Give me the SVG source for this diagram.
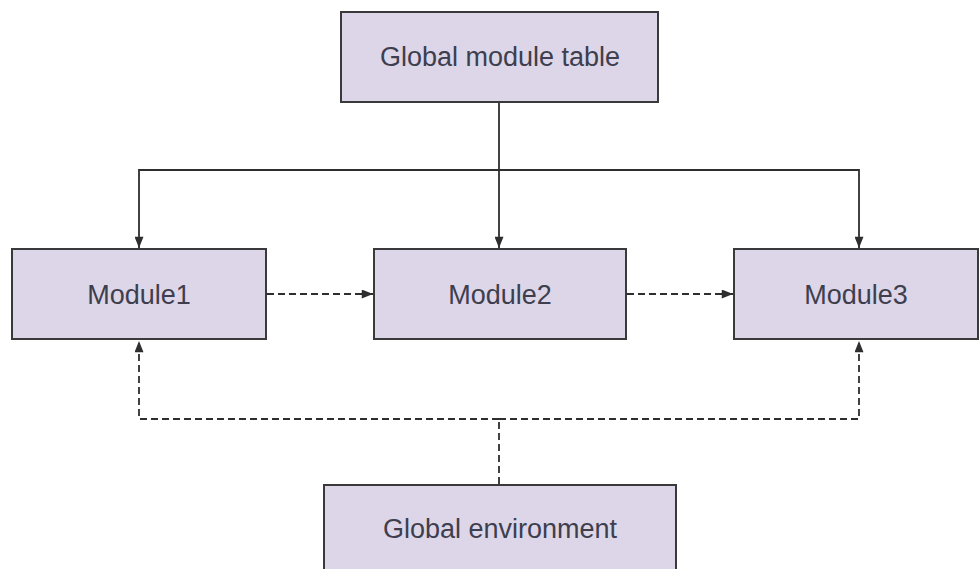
<svg xmlns="http://www.w3.org/2000/svg" width="979" height="569" viewBox="0 0 979 569">
<style>
.box{fill:#dcd6e8;stroke:#3a3a3a;stroke-width:2}
.lbl{font-family:"Liberation Sans",Arial,sans-serif;font-size:27px;fill:#3e3e4e;text-anchor:middle}
.ln{fill:none;stroke:#2e2e2e;stroke-width:1.8}
.dash{stroke-dasharray:7 4}
</style>
<defs>
<marker id="ah" viewBox="0 0 10 8" refX="10" refY="4" markerWidth="12" markerHeight="9" markerUnits="userSpaceOnUse" orient="auto">
<path d="M0,0 L10,4 L0,8 Z" fill="#2e2e2e"/>
</marker>
</defs>
<rect width="979" height="569" fill="#fff"/>
<g id="connectors">
<path class="ln" d="M499,102 V248" marker-end="url(#ah)"/>
<path class="ln" d="M499,170 H139 V248" marker-end="url(#ah)"/>
<path class="ln" d="M499,170 H859 V248" marker-end="url(#ah)"/>
<path class="ln dash" d="M267,294 H373" marker-end="url(#ah)"/>
<path class="ln dash" d="M627,294 H733" marker-end="url(#ah)"/>
<path class="ln dash" d="M499,484 V419"/>
<path class="ln dash" d="M499,419 H139 V341" marker-end="url(#ah)"/>
<path class="ln dash" d="M499,419 H859 V341" marker-end="url(#ah)"/>
</g>
<g id="global-module-table">
<rect class="box" x="341" y="12" width="317" height="90"/>
<text class="lbl" x="500" y="66">Global module table</text>
</g>
<g id="module1">
<rect class="box" x="12" y="249" width="254" height="90"/>
<text class="lbl" x="139" y="304">Module1</text>
</g>
<g id="module2">
<rect class="box" x="374" y="249" width="252" height="90"/>
<text class="lbl" x="500" y="304">Module2</text>
</g>
<g id="module3">
<rect class="box" x="734" y="249" width="244" height="90"/>
<text class="lbl" x="856" y="304">Module3</text>
</g>
<g id="global-environment">
<rect class="box" x="324" y="485" width="352" height="90"/>
<text class="lbl" x="500" y="538">Global environment</text>
</g>
</svg>
